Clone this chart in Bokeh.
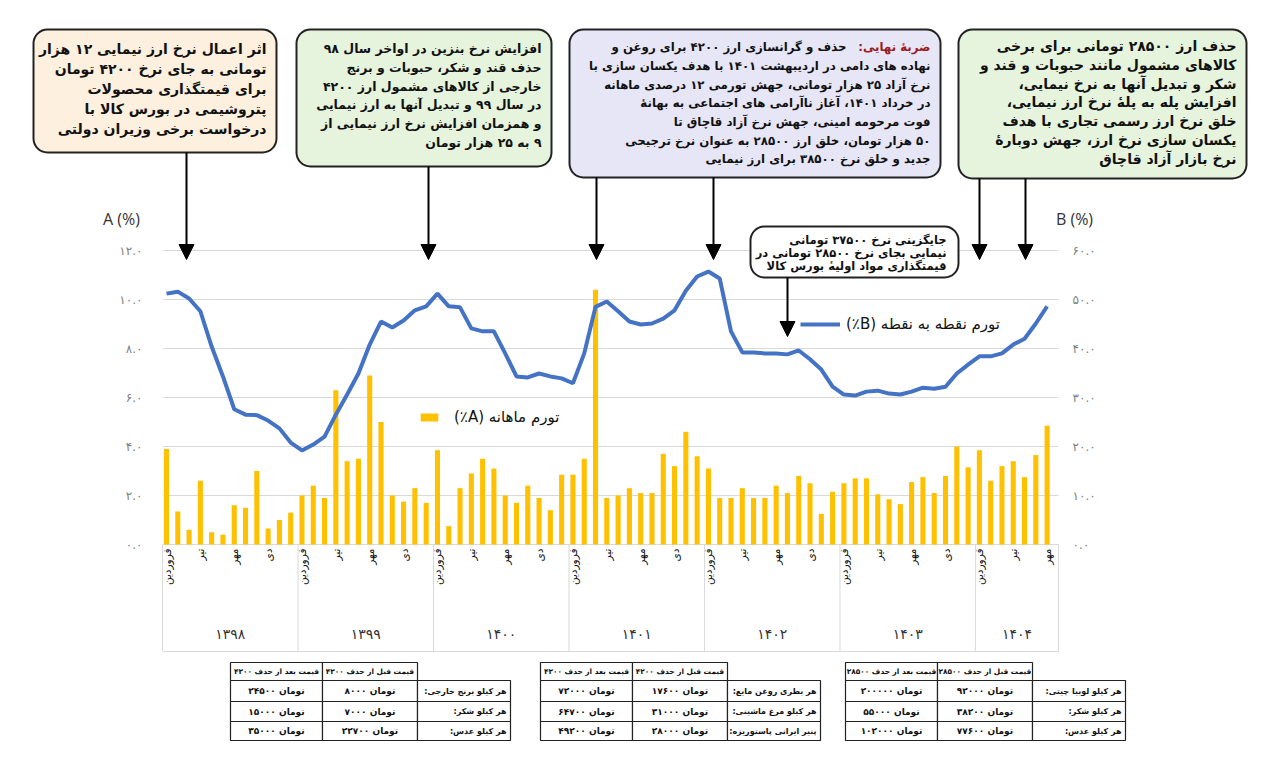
import math
from bokeh.plotting import figure
from bokeh.models import (Range1d, LinearAxis, FixedTicker, ColumnDataSource,
                          Arrow, NormalHead, Legend, LegendItem, Label)
from bokeh.core.properties import value
from bokeh.embed import file_html
from bokeh.resources import INLINE

# ---------------- data ----------------
years = ["۱۳۹۸", "۱۳۹۹", "۱۴۰۰", "۱۴۰۱", "۱۴۰۲", "۱۴۰۳", "۱۴۰۴"]
months_in_year = [12, 12, 12, 12, 12, 12, 7]
month_names = ["فروردین", "اردیبهشت", "خرداد", "تیر", "مرداد", "شهریور",
               "مهر", "آبان", "آذر", "دی", "بهمن", "اسفند"]
labelled_months = ["فروردین", "تیر", "مهر", "دی"]

# A: monthly inflation (%), left axis
monthly_a = [
    3.9, 1.35, 0.6, 2.6, 0.5, 0.4, 1.6, 1.5, 3.0, 0.65, 1.0, 1.3,      # 1398
    2.0, 2.4, 1.9, 6.3, 3.4, 3.5, 6.9, 5.0, 2.0, 1.75, 2.3, 1.7,       # 1399
    3.85, 0.75, 2.3, 2.9, 3.5, 3.1, 2.0, 1.7, 2.4, 1.9, 1.4, 2.85,     # 1400
    2.85, 3.5, 10.4, 1.9, 2.0, 2.3, 2.1, 2.1, 3.7, 3.2, 4.6, 3.6,      # 1401
    3.1, 1.9, 1.9, 2.3, 1.9, 1.9, 2.4, 2.1, 2.8, 2.5, 1.25, 2.15,      # 1402
    2.5, 2.7, 2.7, 2.05, 1.85, 1.65, 2.55, 2.75, 2.1, 2.8, 4.0, 3.15,  # 1403
    3.85, 2.6, 3.2, 3.4, 2.75, 3.65, 4.85,                             # 1404
]
# B: point-to-point inflation (%), right axis
p2p_b = [
    51.2, 51.6, 50.2, 47.6, 40.4, 34.3, 27.6, 26.5, 26.4, 25.3, 23.7, 20.8,
    19.2, 20.4, 22.0, 26.5, 30.6, 34.9, 40.8, 45.5, 44.3, 45.7, 47.8, 48.6,
    51.2, 48.6, 48.4, 44.1, 43.5, 43.5, 39.0, 34.3, 34.1, 34.9, 34.3, 33.9,
    32.9, 39.0, 48.5, 49.6, 47.6, 45.5, 44.9, 45.1, 46.1, 47.8, 51.8, 54.7,
    55.7, 54.3, 43.5, 39.2, 39.2, 39.0, 39.0, 38.8, 39.6, 37.8, 35.7, 32.2,
    30.6, 30.4, 31.2, 31.4, 30.8, 30.6, 31.2, 32.0, 31.8, 32.2, 34.9, 36.7,
    38.4, 38.4, 39.0, 40.8, 42.0, 45.1, 48.6,
]

a_ticks = [0, 2, 4, 6, 8, 10, 12]
a_tick_labels = ["۰.۰", "۲.۰", "۴.۰", "۶.۰", "۸.۰", "۱۰.۰", "۱۲.۰"]
b_ticks = [0, 10, 20, 30, 40, 50, 60]
b_tick_labels = ["۰.۰", "۱۰.۰", "۲۰.۰", "۳۰.۰", "۴۰.۰", "۵۰.۰", "۶۰.۰"]

legend_a = "تورم ماهانه (A٪)"
legend_b = "تورم نقطه به نقطه (B٪)"

callout_texts = [
    ["اثر اعمال نرخ ارز نیمایی ۱۲ هزار",
     "تومانی به جای نرخ ۴۲۰۰ تومان",
     "برای قیمتگذاری محصولات",
     "پتروشیمی در بورس کالا با",
     "درخواست برخی وزیران دولتی"],
    ["افزایش نرخ بنزین در اواخر سال ۹۸",
     "حذف قند و شکر، حبوبات و برنج",
     "خارجی از کالاهای مشمول ارز ۴۲۰۰",
     "در سال ۹۹ و تبدیل آنها به ارز نیمایی",
     "و همزمان افزایش نرخ ارز نیمایی از",
     "۹ به ۲۵ هزار تومان"],
    ["حذف و گرانسازی ارز ۴۲۰۰ برای روغن و",
     "نهاده های دامی در اردیبهشت ۱۴۰۱ با هدف یکسان سازی با",
     "نرخ آزاد ۲۵ هزار تومانی، جهش تورمی ۱۲ درصدی ماهانه",
     "در خرداد ۱۴۰۱، آغاز ناآرامی های اجتماعی به بهانهٔ",
     "فوت مرحومه امینی، جهش نرخ آزاد قاچاق تا",
     "۵۰ هزار تومان، خلق ارز ۲۸۵۰۰ به عنوان نرخ ترجیحی",
     "جدید و خلق نرخ ۳۸۵۰۰ برای ارز نیمایی"],
    ["حذف ارز ۲۸۵۰۰ تومانی برای برخی",
     "کالاهای مشمول مانند حبوبات و قند و",
     "شکر و تبدیل آنها به نرخ نیمایی،",
     "افزایش پله به پلهٔ نرخ ارز نیمایی،",
     "خلق نرخ ارز رسمی تجاری با هدف",
     "یکسان سازی نرخ ارز، جهش دوبارهٔ",
     "نرخ بازار آزاد قاچاق"],
    ["جایگزینی نرخ ۳۷۵۰۰ تومانی",
     "نیمایی بجای نرخ ۲۸۵۰۰ تومانی در",
     "قیمتگذاری مواد اولیهٔ بورس کالا"],
]
callout3_lead = "ضربهٔ نهایی:"

table_headers = [
    ["قیمت بعد از حذف ۴۲۰۰", "قیمت قبل از حذف ۴۲۰۰"],
    ["قیمت بعد از حذف ۴۲۰۰", "قیمت قبل از حذف ۴۲۰۰"],
    ["قیمت بعد از حذف ۲۸۵۰۰", "قیمت قبل از حذف ۲۸۵۰۰"],
]
table_items = [
    ["هر کیلو برنج خارجی:", "هر کیلو شکر:", "هر کیلو عدس:"],
    ["هر بطری روغن مایع:", "هر کیلو مرغ ماشینی:", "پنیر ایرانی پاستوریزه:"],
    ["هر کیلو لوبیا چیتی:", "هر کیلو شکر:", "هر کیلو عدس:"],
]
price_before = [
    ["۸۰۰۰ تومان", "۷۰۰۰ تومان", "۲۲۷۰۰ تومان"],
    ["۱۷۶۰۰ تومان", "۳۱۰۰۰ تومان", "۲۸۰۰۰ تومان"],
    ["۹۲۰۰۰ تومان", "۳۸۲۰۰ تومان", "۷۷۶۰۰ تومان"],
]
price_after = [
    ["۲۴۵۰۰ تومان", "۱۵۰۰۰ تومان", "۳۵۰۰۰ تومان"],
    ["۷۲۰۰۰ تومان", "۶۴۷۰۰ تومان", "۴۹۲۰۰ تومان"],
    ["۲۰۰۰۰۰ تومان", "۵۵۰۰۰ تومان", "۱۰۲۰۰۰ تومان"],
]

# ---------------- layout (pixel geometry of the canvas) ----------------
W, H = 1276, 771
X0, DX = 166.0, 11.29      # pixel of first month, pixels per month
Y0, DY = 544.0, 24.5       # pixel of value 0 (left axis), pixels per unit


def X(px):
    return (px - X0) / DX


def Y(py):
    return (Y0 - py) / DY


def rtl(s):
    return "\u202b" + s + "\u202c"


def ltr(s):
    return "\u202a" + s + "\u202c"


FA = value("DejaVu Sans")

n = sum(months_in_year)
idx = list(range(n))
month_of = []
for ny in months_in_year:
    month_of += month_names[:ny]
year_start = [sum(months_in_year[:k]) for k in range(len(years))]

p = figure(width=W, height=H, x_range=Range1d(X(0), X(W)), y_range=Range1d(Y(H), Y(0)),
           x_axis_location=None, y_axis_location=None, toolbar_location=None,
           output_backend="svg", min_border=0, outline_line_color=None,
           background_fill_color="white", border_fill_color="white")
p.grid.visible = False
p.extra_y_ranges = {"B": Range1d(Y(H) * 5, Y(0) * 5)}

left_edge, right_edge = -0.3, n + 0.0

# grid lines
p.segment(x0=[left_edge] * len(a_ticks), x1=[right_edge] * len(a_ticks), y0=a_ticks, y1=a_ticks,
          line_color="#d9d9d9", line_width=1)

# category box under the axis
sep_x = [s - 0.35 for s in year_start] + [right_edge]
p.segment(x0=sep_x, x1=sep_x, y0=[0] * len(sep_x), y1=[Y(651)] * len(sep_x),
          line_color="#d9d9d9", line_width=1)
p.segment(x0=[left_edge], x1=[right_edge], y0=[Y(651)], y1=[Y(651)],
          line_color="#d9d9d9", line_width=1)

src = ColumnDataSource(dict(x=idx, a=monthly_a, b=p2p_b, month=month_of))
bars = p.vbar(x="x", top="a", width=0.45, source=src, fill_color="#ffc000", line_color=None)
line = p.line(x="x", y="b", source=src, y_range_name="B", line_color="#4472c4", line_width=4)

# axes
axis_style = dict(axis_line_color=None, major_tick_line_color=None, minor_tick_line_color=None,
                  major_tick_out=0, major_tick_in=0)
ya = LinearAxis(ticker=FixedTicker(ticks=a_ticks), fixed_location=X(146),
                major_label_overrides=dict(zip(a_ticks, a_tick_labels)),
                major_label_text_font="DejaVu Sans", major_label_text_font_size="12px",
                major_label_text_color="#7f7f7f", major_label_standoff=4, **axis_style)
p.add_layout(ya, "left")
yb = LinearAxis(y_range_name="B", ticker=FixedTicker(ticks=b_ticks), fixed_location=X(1066),
                major_label_overrides=dict(zip(b_ticks, b_tick_labels)),
                major_label_text_font="DejaVu Sans", major_label_text_font_size="12px",
                major_label_text_color="#7f7f7f", major_label_standoff=6, **axis_style)
p.add_layout(yb, "right")

m_ticks = [i for i in idx if month_of[i] in labelled_months]
xm = LinearAxis(ticker=FixedTicker(ticks=m_ticks), fixed_location=0,
                major_label_overrides={i: month_of[i] for i in m_ticks},
                major_label_orientation=math.pi / 2,
                major_label_text_font="DejaVu Sans", major_label_text_font_size="10.5px",
                major_label_text_color="#111111", major_label_standoff=4, **axis_style)
p.add_layout(xm, "below")

y_centers = [(sep_x[k] + sep_x[k + 1]) / 2 for k in range(len(years))]
xy = LinearAxis(ticker=FixedTicker(ticks=y_centers), fixed_location=Y(623),
                major_label_overrides=dict(zip(y_centers, years)),
                major_label_text_font="DejaVu Sans", major_label_text_font_size="14px",
                major_label_text_color="#333333", major_label_standoff=2, **axis_style)
p.add_layout(xy, "below")

p.add_layout(Label(x=X(121), y=Y(218), text="A (%)", text_align="center", text_baseline="middle",
                   text_font="Open Sans", text_font_size="16px", text_color="#333333"))
p.add_layout(Label(x=X(1074), y=Y(218), text="B (%)", text_align="center", text_baseline="middle",
                   text_font="Open Sans", text_font_size="16px", text_color="#333333"))

# legends
leg_common = dict(padding=0, margin=0, border_line_color=None, background_fill_alpha=0,
                  label_text_font="DejaVu Sans", label_text_font_size="15px",
                  label_text_color="#111111", label_height=12)
p.add_layout(Legend(items=[LegendItem(label=rtl(legend_a), renderers=[bars])],
                    location=(418, H - 426), glyph_width=22, glyph_height=10,
                    label_standoff=14, **leg_common))
p.add_layout(Legend(items=[LegendItem(label=rtl(legend_b), renderers=[line])],
                    location=(800, H - 333), glyph_width=40, glyph_height=12,
                    label_standoff=6, **leg_common))

# callouts: (left, right, top, bottom) px, fill, text right px, line ys px, font size, arrows (x, y0, y1)
callout_geo = [
    dict(box=(33, 276, 29, 152), fill="#fdf0df", tr=266, ys=[48, 68, 88, 108, 128], fs="14px",
         arrows=[(186, 152, 259)]),
    dict(box=(296, 551, 29, 166), fill="#e6f4de", tr=541, ys=[48, 67, 86, 104, 123, 142], fs="12.5px",
         arrows=[(428, 166, 259)]),
    dict(box=(569, 940, 29, 177), fill="#e6e6f6", tr=930, ys=[46, 65, 84, 102, 121, 140, 158], fs="11.8px",
         arrows=[(596, 177, 259), (713, 177, 259)]),
    dict(box=(958, 1246, 29, 178), fill="#e6f4de", tr=1236, ys=[45, 64, 83, 101, 120, 139, 158], fs="14px",
         arrows=[(979, 178, 259), (1025, 178, 259)]),
    dict(box=(750, 958, 226, 277), fill="#ffffff", tr=946, ys=[239, 252, 265], fs="11.5px",
         arrows=[(787, 277, 336)]),
]
for k, g in enumerate(callout_geo):
    l, r, t, b = g["box"]
    p.quad(left=[X(l)], right=[X(r)], top=[Y(t)], bottom=[Y(b)], fill_color=g["fill"],
           line_color="#222222", line_width=2, border_radius=14)
    lines = callout_texts[k]
    xs = [X(g["tr"])] * len(lines)
    if k == 2:
        xs[0] = X(g["tr"] - 84)
        p.text(x=[X(g["tr"])], y=[Y(g["ys"][0])], text=[rtl(callout3_lead)], text_align="right",
               text_baseline="middle", text_font=FA, text_font_style="bold",
               text_font_size=g["fs"], text_color="#9b1b1f")
    p.text(x=xs, y=[Y(v) for v in g["ys"]], text=[rtl(s) for s in lines], text_align="right",
           text_baseline="middle", text_font=FA, text_font_style="bold",
           text_font_size=g["fs"], text_color="#111111")
    for ax, ay0, ay1 in g["arrows"]:
        p.add_layout(Arrow(end=NormalHead(size=15, fill_color="black", line_color="black"),
                           x_start=X(ax), y_start=Y(ay0), x_end=X(ax), y_end=Y(ay1),
                           line_color="black", line_width=2))

# tables
table_left = [230, 540, 845]
col_w = [92, 95, 93]
row_edges = [662, 680, 701, 721, 740]
for t in range(3):
    c0 = table_left[t]
    c1 = c0 + col_w[0]
    c2 = c1 + col_w[1]
    c3 = c2 + col_w[2]
    ql, qr, qt, qb = [], [], [], []
    for (a, bb) in [(c0, c1), (c1, c2)]:
        ql.append(X(a)); qr.append(X(bb)); qt.append(Y(row_edges[0])); qb.append(Y(row_edges[1]))
    for rr in range(3):
        for (a, bb) in [(c0, c1), (c1, c2), (c2, c3)]:
            ql.append(X(a)); qr.append(X(bb)); qt.append(Y(row_edges[rr + 1])); qb.append(Y(row_edges[rr + 2]))
    p.quad(left=ql, right=qr, top=qt, bottom=qb, fill_color="white", line_color="#222222", line_width=1.2)
    hy = Y((row_edges[0] + row_edges[1]) / 2)
    p.text(x=[X((c0 + c1) / 2), X((c1 + c2) / 2)], y=[hy, hy], text=[rtl(s) for s in table_headers[t]],
           text_align="center", text_baseline="middle", text_font=FA, text_font_style="bold",
           text_font_size="7.4px", text_color="#111111")
    ry = [Y((row_edges[rr + 1] + row_edges[rr + 2]) / 2) for rr in range(3)]
    p.text(x=[X((c0 + c1) / 2)] * 3, y=ry, text=[ltr(s) for s in price_after[t]], text_align="center",
           text_baseline="middle", text_font=FA, text_font_style="bold",
           text_font_size="9px", text_color="#111111")
    p.text(x=[X((c1 + c2) / 2)] * 3, y=ry, text=[ltr(s) for s in price_before[t]], text_align="center",
           text_baseline="middle", text_font=FA, text_font_style="bold",
           text_font_size="9px", text_color="#111111")
    p.text(x=[X(c3 - 4)] * 3, y=ry, text=[rtl(s) for s in table_items[t]], text_align="right",
           text_baseline="middle", text_font=FA, text_font_style="bold",
           text_font_size="8px", text_color="#111111")

open("out.html", "w").write(file_html(p, INLINE))
